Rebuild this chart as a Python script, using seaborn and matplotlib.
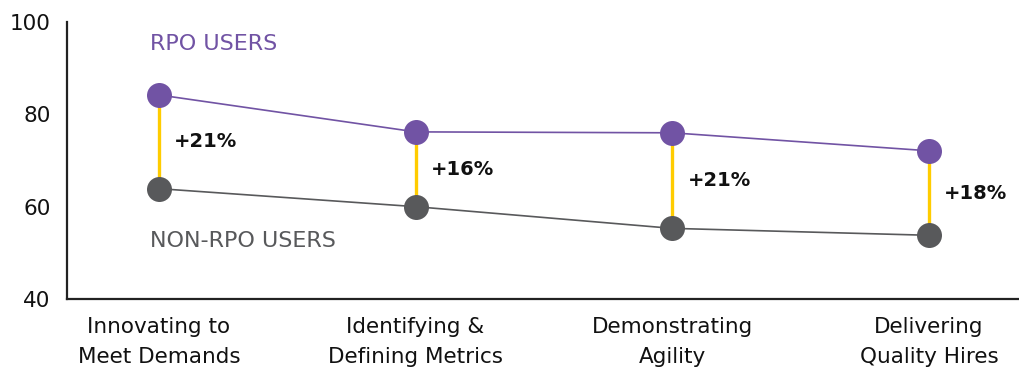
import numpy as np
import pandas as pd
import matplotlib
matplotlib.use("Agg")
import matplotlib.pyplot as plt
import seaborn as sns

categories = ["Innovating to\nMeet Demands", "Identifying &\nDefining Metrics",
              "Demonstrating\nAgility", "Delivering\nQuality Hires"]
rpo_users = [84.2, 76.2, 76.0, 72.1]
non_rpo_users = [63.9, 60.0, 55.3, 53.8]
gap_labels = ["+21%", "+16%", "+21%", "+18%"]
y_ticks = [40, 60, 80, 100]

PURPLE = "#7153A4"
GREY = "#58595B"
YELLOW = "#FFCC00"

sns.set_theme(style="white")
plt.rcParams["font.family"] = ["DejaVu Sans"]

fig = plt.figure(figsize=(10.19, 3.73), dpi=100)
ax = fig.add_axes([0.0658, 0.1984, 0.934, 0.7426])

pos = np.arange(len(categories))
df = pd.DataFrame({"pos": np.concatenate([pos, pos]),
                   "value": rpo_users + non_rpo_users,
                   "group": ["RPO USERS"] * 4 + ["NON-RPO USERS"] * 4})

# yellow connectors
ax.vlines(pos, non_rpo_users, rpo_users, color=YELLOW, linewidth=2.4, zorder=1)

sns.lineplot(data=df, x="pos", y="value", hue="group",
             palette={"RPO USERS": PURPLE, "NON-RPO USERS": GREY},
             marker="o", markersize=18, markeredgewidth=0, linewidth=1.2,
             legend=False, ax=ax, zorder=2)

for x, lo, hi, lab in zip(pos, non_rpo_users, rpo_users, gap_labels):
    ax.annotate(lab, xy=(x, (lo + hi) / 2), xytext=(11, 0), textcoords="offset points",
                ha="left", va="center", fontsize=14, fontweight="semibold", color="#111111")

ax.text(-0.035, 95.2, "RPO USERS", color=PURPLE, fontsize=16, ha="left", va="center")
ax.text(-0.035, 52.5, "NON-RPO USERS", color=GREY, fontsize=16, ha="left", va="center")

ax.set_xlim(-0.358, 3.35)
ax.set_ylim(40, 100)
ax.set_yticks(y_ticks)
ax.set_xticks(pos)
ax.set_xticklabels(categories, linespacing=1.6)
ax.tick_params(axis="both", length=0, labelsize=15.5, colors="#111111")
ax.tick_params(axis="y", pad=12)
ax.tick_params(axis="x", pad=13)
ax.set_xlabel("")
ax.set_ylabel("")
for s in ["top", "right"]:
    ax.spines[s].set_visible(False)
for s in ["left", "bottom"]:
    ax.spines[s].set_color("#222222")
    ax.spines[s].set_linewidth(1.6)

fig.savefig("out.png", dpi=100)
